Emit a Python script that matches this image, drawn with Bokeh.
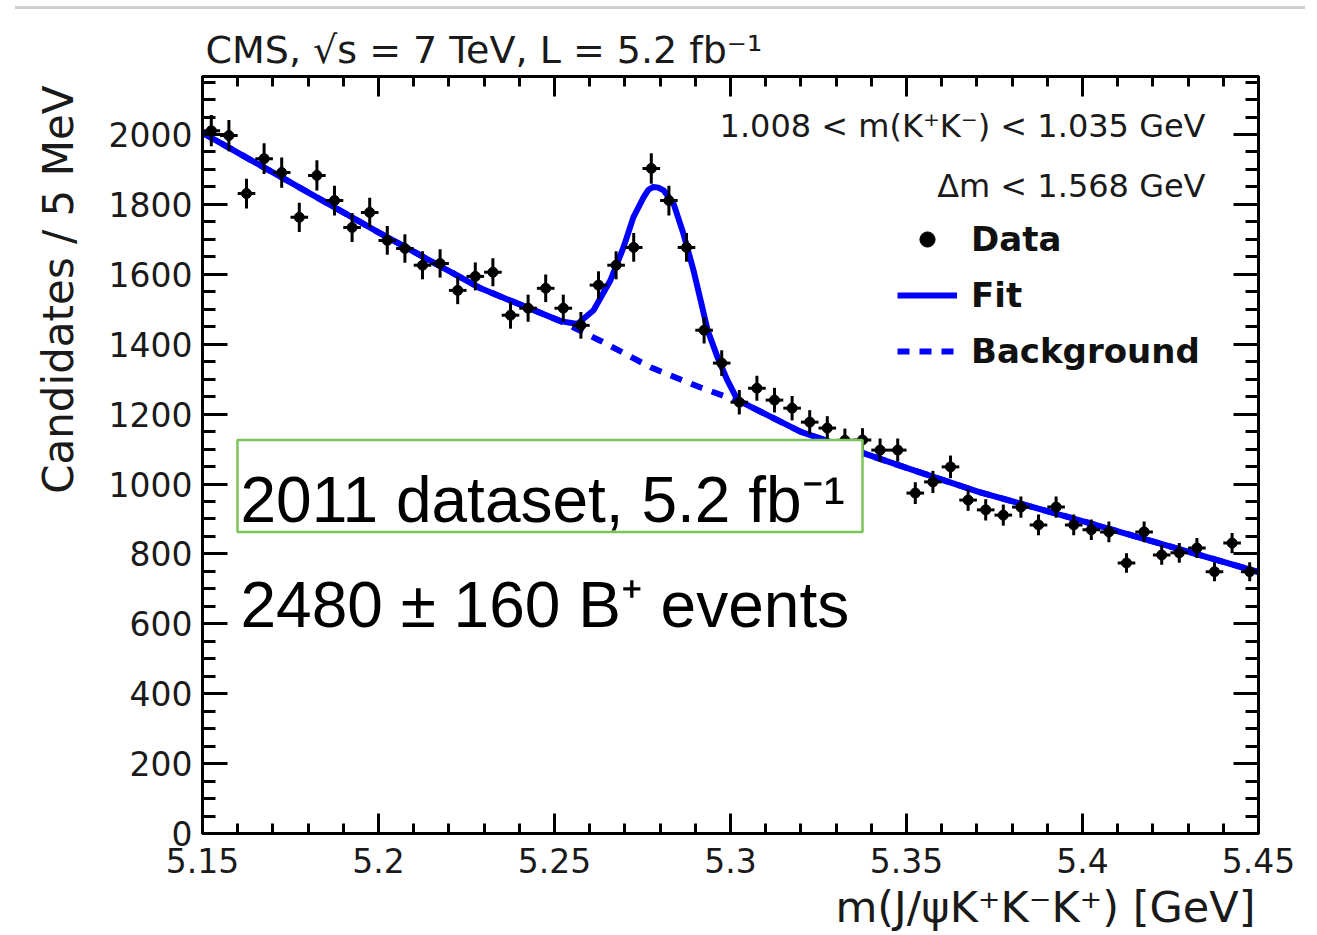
import numpy as np
from bokeh.plotting import figure
from bokeh.models import (Range1d, LinearAxis, FixedTicker, Label, BoxAnnotation,
                          Legend, LegendItem, Div, CustomJSTickFormatter, Grid, Title)
from bokeh.layouts import column
from bokeh.embed import file_html
from bokeh.resources import INLINE

# ---------------- data ----------------
mass_bins = [5.1525, 5.1575, 5.1625, 5.1675, 5.1725, 5.1775, 5.1825, 5.1875, 5.1925, 5.1975,
             5.2025, 5.2075, 5.2125, 5.2175, 5.2225, 5.2275, 5.2325, 5.2375, 5.2425, 5.2475,
             5.2525, 5.2575, 5.2625, 5.2675, 5.2725, 5.2775, 5.2825, 5.2875, 5.2925, 5.2975,
             5.3025, 5.3075, 5.3125, 5.3175, 5.3225, 5.3275, 5.3325, 5.3375, 5.3425, 5.3475,
             5.3525, 5.3575, 5.3625, 5.3675, 5.3725, 5.3775, 5.3825, 5.3875, 5.3925, 5.3975,
             5.4025, 5.4075, 5.4125, 5.4175, 5.4225, 5.4275, 5.4325, 5.4375, 5.4425, 5.4475]
candidates = [2011, 1997, 1831, 1931, 1891, 1763, 1883, 1811, 1734, 1777,
              1697, 1674, 1626, 1631, 1554, 1594, 1606, 1483, 1503, 1560,
              1503, 1454, 1569, 1626, 1677, 1903, 1811, 1677, 1440, 1346,
              1234, 1274, 1240, 1217, 1177, 1160, 1125, 1126, 1097, 1097,
              974, 1006, 1049, 954, 926, 911, 934, 883, 934, 883,
              869, 863, 774, 863, 797, 803, 817, 749, 831, 749]

fit_mass = [5.15, 5.175, 5.20, 5.229, 5.2517, 5.2565, 5.2611, 5.2659, 5.2696, 5.2724,
            5.2753, 5.2767, 5.2781, 5.2795, 5.2810, 5.2838, 5.2866, 5.2895, 5.2915, 5.2935,
            5.2963, 5.2991, 5.3020, 5.32, 5.35, 5.3707, 5.40, 5.45]
fit_values = [2005, 1863, 1720, 1560, 1466, 1458, 1497, 1583, 1677, 1763,
              1820, 1842, 1850, 1848, 1840, 1803, 1717, 1611, 1526, 1440,
              1363, 1297, 1240, 1149, 1046, 977, 894, 748]

bkg_mass = [5.15, 5.175, 5.20, 5.229, 5.2517, 5.263, 5.2773, 5.2915, 5.3009, 5.3020,
            5.32, 5.35, 5.3707, 5.40, 5.45]
bkg_values = [2005, 1863, 1720, 1560, 1466, 1410, 1334, 1276, 1242, 1240,
              1149, 1046, 977, 894, 748]

x_ticks = [5.15, 5.2, 5.25, 5.3, 5.35, 5.4, 5.45]
x_tick_labels = ["5.15", "5.2", "5.25", "5.3", "5.35", "5.4", "5.45"]
y_ticks = [0, 200, 400, 600, 800, 1000, 1200, 1400, 1600, 1800, 2000]
y_tick_labels = ["0", "200", "400", "600", "800", "1000", "1200", "1400", "1600", "1800", "2000"]

legend_labels = ["Data", "Fit", "Background"]

# ---------------- figure ----------------
ROOT_FONT = "DejaVu Sans"
TICK_FONT = "DejaVu Sans"
TOP_OFFSET = 9  # the figure starts 9 px below the page top (grey rule above)

p = figure(width=1317, height=926,
           x_range=Range1d(5.15, 5.45), y_range=Range1d(0, 2166),
           output_backend="svg", toolbar_location=None,
           x_axis_location=None, y_axis_location=None,
           min_border_left=202, min_border_right=59,
           min_border_top=67, min_border_bottom=101)
for r in list(p.center):
    if isinstance(r, Grid):
        r.visible = False
p.outline_line_color = "black"
p.outline_line_width = 3
p.background_fill_color = "white"
p.border_fill_color = "white"

x_minor = [round(5.15 + 0.01 * i, 3) for i in range(31)]
y_minor = [50 * i for i in range(44)]
xticker = FixedTicker(ticks=x_ticks, minor_ticks=x_minor)
yticker = FixedTicker(ticks=y_ticks, minor_ticks=y_minor)
blank = CustomJSTickFormatter(code="return '';")


def style_axis(ax, major_in, minor_in):
    ax.axis_line_width = 3
    ax.axis_line_color = "black"
    ax.major_tick_line_width = 3
    ax.minor_tick_line_width = 3
    ax.major_tick_line_color = "black"
    ax.minor_tick_line_color = "black"
    ax.major_tick_in = major_in
    ax.major_tick_out = 0
    ax.minor_tick_in = minor_in
    ax.minor_tick_out = 0
    ax.major_label_text_font = TICK_FONT
    ax.major_label_text_font_size = "33px"
    ax.major_label_text_color = "#1a1a1a"


bottom = LinearAxis(ticker=xticker,
                    major_label_overrides=dict(zip(x_ticks, x_tick_labels)))
style_axis(bottom, 20, 10)
bottom.major_label_standoff = 14
left = LinearAxis(ticker=yticker,
                  major_label_overrides=dict(zip(y_ticks, y_tick_labels)))
style_axis(left, 25, 13)
left.major_label_standoff = 10
top = LinearAxis(ticker=xticker, formatter=blank)
style_axis(top, 20, 10)
top.major_label_text_font_size = "0px"
top.major_label_standoff = 0
right = LinearAxis(ticker=yticker, formatter=blank)
style_axis(right, 25, 13)
right.major_label_text_font_size = "0px"
right.major_label_standoff = 0

p.add_layout(bottom, "below")
p.add_layout(left, "left")
p.add_layout(top, "above")
p.add_layout(right, "right")

# ---------------- titles outside the frame ----------------
p.add_layout(Title(text="CMS, √s = 7 TeV, L = 5.2 fb⁻¹", align="left", offset=3,
                   standoff=10, text_font=ROOT_FONT, text_font_size="38px",
                   text_font_style="normal", text_color="#1a1a1a"), "above")
p.add_layout(Title(text="Candidates / 5 MeV", align="right", offset=9,
                   standoff=46, text_font=ROOT_FONT, text_font_size="42px",
                   text_font_style="normal", text_color="#1a1a1a"), "left")
p.add_layout(Title(text="m(J/ψK⁺K⁻K⁺) [GeV]", align="right", offset=3,
                   standoff=8, text_font=ROOT_FONT, text_font_size="43px",
                   text_font_style="normal", text_color="#1a1a1a"), "below")

# ---------------- curves and data ----------------
x = np.array(mass_bins)
y = np.array(candidates, dtype=float)
err = np.sqrt(y)
half_bin = 0.0025

bkg_r = p.line(bkg_mass, bkg_values, line_color="#0000ff", line_width=6,
               line_dash="12 10")
fit_r = p.line(fit_mass, fit_values, line_color="#0000ff", line_width=6,
               line_join="round")
p.segment(x0=x, y0=y - err, x1=x, y1=y + err, line_color="black", line_width=3)
p.segment(x0=x - half_bin, y0=y, x1=x + half_bin, y1=y, line_color="black", line_width=3)
data_r = p.scatter(x, y, size=10, marker="circle", fill_color="black", line_color="black")

legend = Legend(items=[LegendItem(label=legend_labels[0], renderers=[data_r]),
                       LegendItem(label=legend_labels[1], renderers=[fit_r]),
                       LegendItem(label=legend_labels[2], renderers=[bkg_r])],
                location=(695, 462), orientation="vertical",
                glyph_width=60, glyph_height=38, label_height=38,
                label_standoff=14, spacing=16, padding=0, margin=0,
                border_line_color=None, background_fill_alpha=0,
                label_text_font=ROOT_FONT, label_text_font_style="bold",
                label_text_font_size="34px", label_text_color="#111111")
p.add_layout(legend)


# ---------------- texts inside the frame ----------------
def canvas_label(text, xc, page_y, size, align="left", font=ROOT_FONT,
                 color="#1a1a1a"):
    lab = Label(x=xc, y=page_y - TOP_OFFSET, x_units="canvas", y_units="canvas",
                text=text, text_font=font, text_font_size=size, text_color=color,
                text_align=align, text_baseline="middle")
    p.add_layout(lab)


canvas_label("1.008 < m(K⁺K⁻) < 1.035 GeV", 1205, 125, "32px", align="right")
canvas_label("Δm < 1.568 GeV", 1205, 185, "32px", align="right")

box = BoxAnnotation(left=5.15994, right=5.3375, bottom=862.9, top=1125.7,
                    fill_color="white", fill_alpha=1.0,
                    line_color="#7cc35a", line_alpha=1.0, line_width=2.5)
p.add_layout(box)

canvas_label("2011 dataset, 5.2 fb⁻¹", 240, 499, "64px", font="Liberation Sans",
             color="black")
canvas_label("2480 ± 160 B⁺ events", 240, 604, "64px", font="Liberation Sans",
             color="black")

rule = Div(text="", width=1290, height=3, margin=(6, 0, 0, 15),
           styles={"background-color": "#d0d0d0"})
layout = column(rule, p, spacing=0)

open("out.html", "w").write(file_html(layout, INLINE))
